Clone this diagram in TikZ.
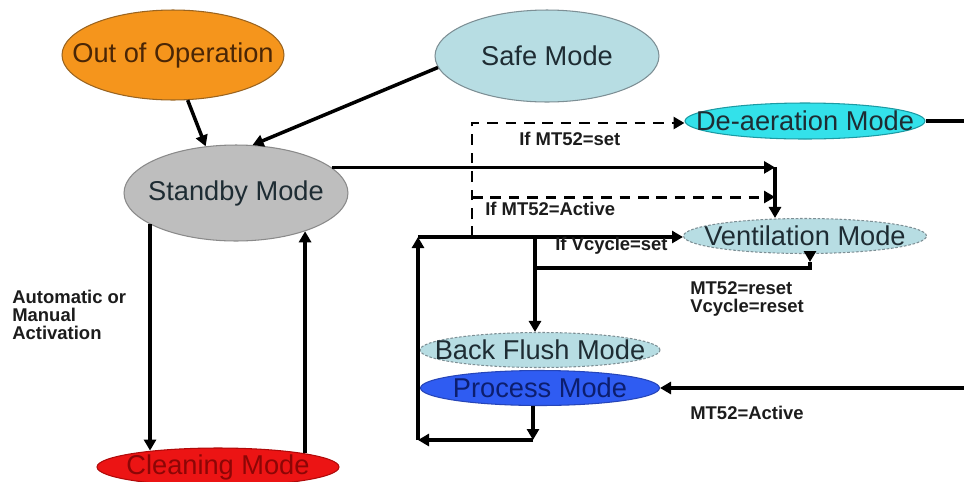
\documentclass[tikz,border=0pt]{standalone}
\usepackage{fontspec}
\setmainfont{Liberation Sans}
\usetikzlibrary{shapes.geometric,arrows.meta}

\definecolor{opfill}{HTML}{F5951C}
\definecolor{opdraw}{HTML}{9A6420}
\definecolor{optext}{HTML}{4A2606}
\definecolor{paleblue}{HTML}{B7DDE3}
\definecolor{paledraw}{HTML}{7D8F95}
\definecolor{greyfill}{HTML}{BEBEBE}
\definecolor{greydraw}{HTML}{8A8A8A}
\definecolor{redfill}{HTML}{EC1414}
\definecolor{reddraw}{HTML}{B00A0A}
\definecolor{redtext}{HTML}{8C0606}
\definecolor{cyanfill}{HTML}{33E1EA}
\definecolor{cyandraw}{HTML}{1C9AA3}
\definecolor{bluefill}{HTML}{2F5CF2}
\definecolor{bluedraw}{HTML}{2645B8}
\definecolor{navytext}{HTML}{0C1E6E}
\definecolor{slatetext}{HTML}{1E2C33}
\definecolor{notetext}{HTML}{1C1C1C}

% zero-width text so the ellipse keeps the size given by minimum width/height
\newcommand\mtext[1]{\makebox[0pt]{#1}}

\begin{document}
\begin{tikzpicture}[x=0.02cm,y=-0.02cm,
  state/.style={ellipse, inner sep=0pt, line width=0.6pt,
    font=\fontsize{15.5}{18}\selectfont},
  flow/.style={line width=2pt, -{Triangle[length=2.2mm,width=2.4mm]}},
  plain/.style={line width=2pt},
  condflow/.style={line width=1.7pt, dash pattern=on 6pt off 4.5pt,
    -{Triangle[length=2.2mm,width=2.4mm]}},
  note/.style={anchor=west, inner sep=0pt, align=left, text=notetext,
    font=\bfseries\fontsize{10.5}{10.3}\selectfont}
]
\fill[white] (0,0) rectangle (964,481);
\useasboundingbox (0,0) rectangle (964,481);

% states
\node[state, fill=opfill, draw=opdraw, text=optext,
  minimum width=4.44cm, minimum height=1.8cm] (out) at (173,55) {\mtext{Out of Operation}};
\node[state, fill=paleblue, draw=paledraw, text=slatetext,
  minimum width=4.48cm, minimum height=1.84cm] (safe) at (547,56) {\mtext{Safe Mode}};
\node[state, fill=greyfill, draw=greydraw, text=slatetext,
  minimum width=4.48cm, minimum height=1.92cm] (standby) at (236,193) {\mtext{Standby Mode}};
\node[state, fill=redfill, draw=reddraw, text=redtext,
  minimum width=4.84cm, minimum height=0.76cm] (cleaning) at (218,467) {\mtext{Cleaning Mode}};
\node[state, fill=cyanfill, draw=cyandraw, text=slatetext,
  minimum width=4.8cm, minimum height=0.72cm] (deaer) at (805,121) {\mtext{De-aeration Mode}};
\node[state, fill=paleblue, draw=paledraw, dash pattern=on 1.5pt off 1pt, text=slatetext,
  minimum width=4.86cm, minimum height=0.7cm] (vent) at (805,236) {\mtext{Ventilation Mode}};
\node[state, fill=paleblue, draw=paledraw, dash pattern=on 1.5pt off 1pt, text=slatetext,
  minimum width=4.8cm, minimum height=0.7cm] (backflush) at (540,350) {\mtext{Back Flush Mode}};
\node[state, fill=bluefill, draw=bluedraw, text=navytext,
  minimum width=4.78cm, minimum height=0.7cm] (process) at (540,388) {\mtext{Process Mode}};

% routing points
\coordinate (j1) at (775,167);
\coordinate (loopTL) at (418,237);
\coordinate (loopBL) at (418,440);
\coordinate (loopBR) at (533,440);
\coordinate (bfTop) at (535,237);
\coordinate (dBase) at (472,237);
\coordinate (dTop) at (472,123);
\coordinate (dMid) at (472,197);
\coordinate (vTip) at (810,262);
\coordinate (vJoin) at (535,268);
\coordinate (edgeR) at (964,0);

% transitions into standby
\draw[flow] (out.-72.6) -- (standby.123.9);
\draw[flow] (safe.186.2) -- (standby.71.4);

% standby <-> cleaning
\draw[flow] (standby.200.7) -- (standby.200.7 |- cleaning.166.5);
\draw[flow] (cleaning.9 -| standby.-29.9) -- (standby.-29.9);

% standby -> ventilation
\draw[flow] (standby.15.4) -- (standby.15.4 -| j1);
\draw[flow] (j1) -- (j1 |- vent.north);

% conditional branches
\draw[condflow] (dBase) -- (dTop) -- (dTop -| deaer.west);
\draw[condflow] (dMid) -- (dMid -| j1);

% process loop
\draw[flow] (loopTL) -- (loopTL -| vent.west);
\draw[flow] (bfTop) -- (bfTop |- backflush.north);
\draw[flow] (vent.south -| vTip) -- (vTip);
\draw[plain] (vTip) |- (vJoin);
\draw[flow] (process.south -| loopBR) -- (loopBR);
\draw[flow] (loopBR) -- (loopBL);
\draw[flow] (loopBL) -- (loopTL);

% lines leaving to the right
\draw[plain] (deaer.east) -- (deaer.east -| edgeR);
\draw[flow] (process.east -| edgeR) -- (process.east);

% conditions
\node[note] (lSet) at (519,139) {If MT52=set};
\node[note] (lAct) at (485,209) {If MT52=Active};
\node[note] (lVset) at (555,246) {If Vcycle=set};
\node[note] (lReset) at (690,299) {MT52=reset\\Vcycle=reset};
\node[note] (lPAct) at (690,413) {MT52=Active};
\node[note] (lAuto) at (12,315) {Automatic or\\Manual\\Activation};
\end{tikzpicture}
\end{document}
